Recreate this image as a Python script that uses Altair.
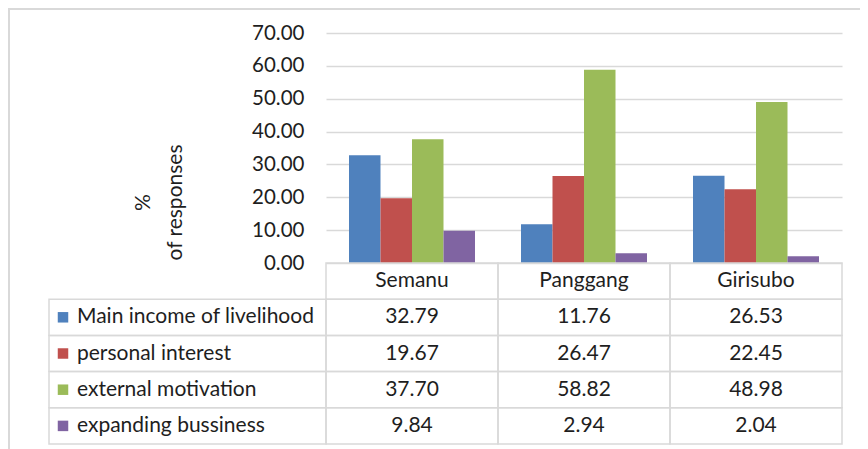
import altair as alt
import pandas as pd

categories = ["Semanu", "Panggang", "Girisubo"]
series_names = ["Main income of livelihood", "personal interest",
                "external motivation", "expanding bussiness"]
main_income = [32.79, 11.76, 26.53]
personal_interest = [19.67, 26.47, 22.45]
external_motivation = [37.70, 58.82, 48.98]
expanding_business = [9.84, 2.94, 2.04]
colors = ["#4F81BD", "#C0504D", "#9BBB59", "#8064A2"]
y_ticks = [0, 10, 20, 30, 40, 50, 60, 70]

series_values = [main_income, personal_interest, external_motivation, expanding_business]
records = []
for s, vals in zip(series_names, series_values):
    for c, v in zip(categories, vals):
        records.append({"category": c, "series": s, "row": s, "value": v, "label": f"{v:.2f}"})
df = pd.DataFrame(records)
header_df = pd.DataFrame({"category": categories, "row": ["header"] * len(categories)})
series_df = pd.DataFrame({"series": series_names, "row": series_names})
dummy = pd.DataFrame({"a": [0]})

rows = ["header"] + series_names

W, H = 516, 230
TABLE_BOTTOM = 411
LABEL_COL = 277
FONT = "Lato"
FS = 21
TXT = "#1E1E1E"
GRID = "#D9D9D9"

x_scale = alt.Scale(domain=categories, paddingInner=0, paddingOuter=0)
row_scale = alt.Scale(domain=rows, range=[H, TABLE_BOTTOM], paddingInner=0, paddingOuter=0)
color_scale = alt.Scale(domain=series_names, range=colors)

bars = alt.Chart(df).mark_bar().encode(
    x=alt.X("category:N", scale=x_scale, axis=None),
    xOffset=alt.XOffset("series:N", scale=alt.Scale(domain=series_names, paddingInner=0, paddingOuter=0.73)),
    y=alt.Y("value:Q", scale=alt.Scale(domain=[0, 70], nice=False),
            axis=alt.Axis(values=y_ticks, format=".2f", title=["%", "of responses"],
                          grid=True, gridColor=GRID, gridWidth=1.5, domain=False, ticks=False,
                          labelPadding=22, labelFont=FONT, labelFontSize=20.5, labelColor=TXT,
                          titleFont=FONT, titleFontSize=FS, titleColor=TXT, titleFontWeight="normal",
                          titleX=-183, titleY=169, titleAlign="center", titleBaseline="middle",
                          titleAngle=270, titleLineHeight=32)),
    color=alt.Color("series:N", scale=color_scale, legend=None),
)

ycell = alt.Y("row:N", scale=row_scale, axis=None)

cells = alt.Chart(df).mark_rect(fillOpacity=0, stroke=GRID, strokeWidth=1.5).encode(
    x=alt.X("category:N", scale=x_scale, axis=None), y=ycell)
header_cells = alt.Chart(header_df).mark_rect(fillOpacity=0, stroke=GRID, strokeWidth=1.5).encode(
    x=alt.X("category:N", scale=x_scale, axis=None), y=ycell)
label_cells = alt.Chart(series_df).mark_rect(fillOpacity=0, stroke=GRID, strokeWidth=1.5).encode(
    x=alt.value(-LABEL_COL), x2=alt.value(0), y=ycell)

value_text = alt.Chart(df).mark_text(font=FONT, fontSize=FS, color=TXT).encode(
    x=alt.X("category:N", scale=x_scale, axis=None), y=ycell, text="label:N")
header_text = alt.Chart(header_df).mark_text(font=FONT, fontSize=FS, color=TXT).encode(
    x=alt.X("category:N", scale=x_scale, axis=None), y=ycell, text="category:N")
swatches = alt.Chart(series_df).mark_square(size=110, opacity=1).encode(
    x=alt.value(-263), y=ycell,
    color=alt.Color("series:N", scale=color_scale, legend=None))
label_text = alt.Chart(series_df).mark_text(font=FONT, fontSize=FS, color=TXT, align="left").encode(
    x=alt.value(-249), y=ycell, text="series:N")

border = alt.Chart(dummy).mark_rect(fillOpacity=0, stroke=GRID, strokeWidth=2).encode(
    x=alt.value(-317), y=alt.value(-24), x2=alt.value(W + 40), y2=alt.value(TABLE_BOTTOM + 40))

chart = alt.layer(
    border, bars, cells, header_cells, label_cells, value_text, header_text, swatches, label_text
).resolve_scale(y="independent").properties(
    width=W, height=H,
    autosize=alt.AutoSizeParams(type="none"),
    padding={"left": 318, "top": 25, "right": 18, "bottom": 186},
).configure_view(stroke=None)

chart.save("out.html", embed_options={"renderer": "svg", "actions": False})
